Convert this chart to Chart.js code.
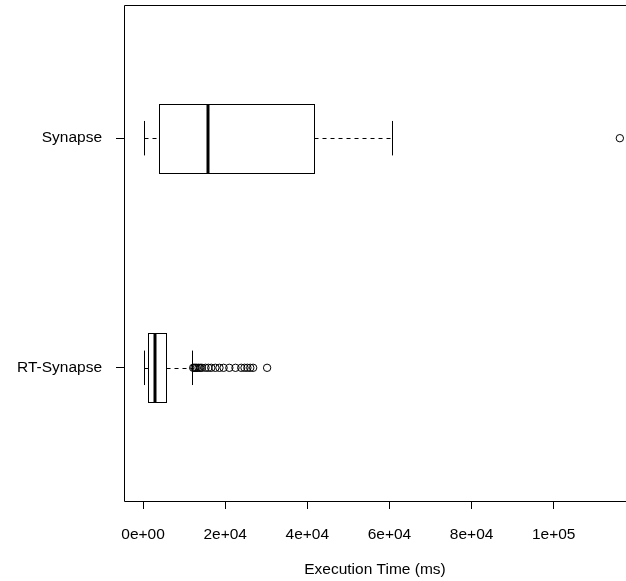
<!DOCTYPE html>
<html>
<head>
<meta charset="utf-8">
<script src="https://cdn.jsdelivr.net/npm/chart.js@4/dist/chart.umd.min.js"></script>
<style>
  html, body { margin: 0; padding: 0; background: #fff; }
</style>
</head>
<body>
<canvas id="myChart" width="626" height="581"></canvas>
<script>
// box statistics, one entry per group (bottom to top)
const groups = ['RT-Synapse', 'Synapse'];
const lowWhisker = [150, 150];
const q1 = [1200, 3800];
const medians = [2900, 15800];
const q3 = [5600, 41700];
const highWhisker = [12000, 60600];
const rtOutliers = [12200, 12500, 12800, 13100, 13500, 13900, 14300, 15200, 15900, 16600,
  17600, 18600, 19600, 21000, 22500, 23900, 24700, 25400, 26100, 26800, 30200];
const synOutliers = [116100];
const xTicks = [0, 20000, 40000, 60000, 80000, 100000];

const font = { family: '"Liberation Sans", Arial, sans-serif', size: 15.5 };

const outlierPoints = rtOutliers.map(v => ({ x: v, y: 1 }))
  .concat(synOutliers.map(v => ({ x: v, y: 2 })));

// draws boxes, whiskers and the frame with the chart's own scales
const boxplotPlugin = {
  id: 'boxplot',
  beforeDatasetsDraw(chart) {
    const ctx = chart.ctx;
    const xs = chart.scales.x;
    const ys = chart.scales.y;
    ctx.save();
    ctx.strokeStyle = '#000';
    groups.forEach((g, i) => {
      const pos = i + 1;
      const yc = Math.round(ys.getPixelForValue(pos)) + 0.5;
      const yTop = Math.round(ys.getPixelForValue(pos + 0.15)) + 0.5;
      const yBot = Math.round(ys.getPixelForValue(pos - 0.15)) + 0.5;
      const sTop = ys.getPixelForValue(pos + 0.075);
      const sBot = ys.getPixelForValue(pos - 0.075);
      const px = v => Math.round(xs.getPixelForValue(v)) + 0.5;

      // whiskers
      ctx.lineWidth = 1;
      ctx.setLineDash([4, 4]);
      ctx.beginPath();
      ctx.moveTo(px(lowWhisker[i]), yc);
      ctx.lineTo(px(q1[i]), yc);
      ctx.moveTo(px(q3[i]), yc);
      ctx.lineTo(px(highWhisker[i]), yc);
      ctx.stroke();
      ctx.setLineDash([]);

      // staples
      ctx.beginPath();
      ctx.moveTo(px(lowWhisker[i]), sTop);
      ctx.lineTo(px(lowWhisker[i]), sBot);
      ctx.moveTo(px(highWhisker[i]), sTop);
      ctx.lineTo(px(highWhisker[i]), sBot);
      ctx.stroke();

      // box
      ctx.strokeRect(px(q1[i]), yTop, px(q3[i]) - px(q1[i]), yBot - yTop);

      // median
      ctx.lineWidth = 3;
      ctx.beginPath();
      ctx.moveTo(Math.round(xs.getPixelForValue(medians[i])), yTop);
      ctx.lineTo(Math.round(xs.getPixelForValue(medians[i])), yBot);
      ctx.stroke();
    });
    ctx.restore();
  },
  afterDraw(chart) {
    const ctx = chart.ctx;
    const a = chart.chartArea;
    ctx.save();
    ctx.strokeStyle = '#000';
    ctx.lineWidth = 1;
    ctx.beginPath();
    ctx.moveTo(chart.width, Math.round(a.top) + 0.5);
    ctx.lineTo(Math.round(a.left) + 0.5, Math.round(a.top) + 0.5);
    ctx.lineTo(Math.round(a.left) + 0.5, Math.round(a.bottom) + 0.5);
    ctx.lineTo(chart.width, Math.round(a.bottom) + 0.5);
    ctx.stroke();
    ctx.restore();
  }
};

const ctx = document.getElementById('myChart').getContext('2d');
const chart = new Chart(ctx, {
  type: 'scatter',
  data: {
    datasets: [
      {
        label: 'outliers',
        data: outlierPoints,
        pointStyle: 'circle',
        pointRadius: 3.7,
        pointHoverRadius: 3.7,
        borderWidth: 1,
        borderColor: '#000',
        backgroundColor: 'rgba(0,0,0,0)',
        clip: false
      }
    ]
  },
  options: {
    responsive: false,
    animation: false,
    devicePixelRatio: 1,
    layout: { autoPadding: false, padding: { top: 5, left: 0, right: 0, bottom: 0 } },
    plugins: {
      legend: { display: false },
      tooltip: { enabled: false }
    },
    scales: {
      x: {
        type: 'linear',
        min: -4650,
        max: 117600,
        afterBuildTicks: axis => { axis.ticks = xTicks.map(v => ({ value: v })); },
        afterFit: axis => {
          axis.height = 80;
          axis.paddingLeft = 0;
          axis.paddingRight = 0;
        },
        border: { display: false },
        grid: { drawOnChartArea: false, drawTicks: true, tickLength: 8, color: '#000' },
        ticks: {
          color: '#000',
          font: font,
          padding: 16,
          maxRotation: 0,
          autoSkip: false,
          callback: v => Number(v).toExponential(0).replace(/e([+-])(\d)$/, 'e$10$2')
        },
        title: {
          display: true,
          text: 'Execution Time (ms)',
          color: '#000',
          font: font,
          padding: { top: 0, bottom: 2 }
        }
      },
      y: {
        type: 'linear',
        min: 0.42,
        max: 2.58,
        afterBuildTicks: axis => { axis.ticks = groups.map((g, i) => ({ value: i + 1 })); },
        afterFit: axis => {
          axis.width = 124;
          axis.paddingTop = 0;
          axis.paddingBottom = 0;
        },
        border: { display: false },
        grid: { drawOnChartArea: false, drawTicks: true, tickLength: 8, color: '#000' },
        ticks: {
          color: '#000',
          font: font,
          padding: 14,
          autoSkip: false,
          callback: v => groups[Math.round(v) - 1]
        }
      }
    }
  },
  plugins: [boxplotPlugin]
});
</script>
</body>
</html>
